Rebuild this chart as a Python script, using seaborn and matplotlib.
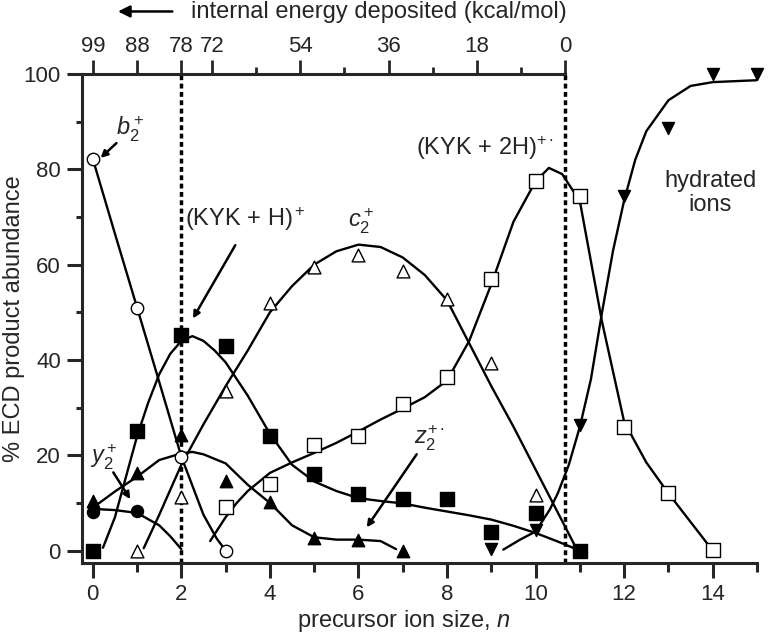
import numpy as np
import pandas as pd
import matplotlib
matplotlib.use("Agg")
import matplotlib.pyplot as plt
import seaborn as sns

# measured points (precursor ion size n, % abundance)
n_b2 = [0, 1, 2, 3]
b2 = [82.2, 51.0, 19.7, 0.0]

n_c2 = [1, 2, 3, 4, 5, 6, 7, 8, 9, 10]
c2 = [0.0, 11.3, 33.5, 52.0, 59.5, 62.1, 58.7, 52.8, 39.4, 11.7]

n_kh = [0, 1, 2, 3, 4, 5, 6, 7, 8, 9, 10, 11]
kh = [0.0, 25.1, 45.2, 42.9, 24.0, 16.0, 11.8, 10.8, 10.8, 4.0, 7.9, 0.0]

n_k2h = [3, 4, 5, 6, 7, 8, 9, 10, 11, 12, 13, 14]
k2h = [9.1, 14.0, 22.1, 24.0, 30.8, 36.5, 56.9, 77.5, 74.3, 26.0, 12.0, 0.2]

n_z2 = [0, 1, 2, 3, 4, 5, 6, 7]
z2 = [10.4, 16.2, 24.2, 14.5, 10.3, 2.7, 2.3, 0.0]

n_y2 = [0, 1]
y2 = [8.2, 8.4]

n_hyd = [9, 10, 11, 12, 13, 14, 15]
hyd = [0.3, 4.4, 26.3, 74.3, 88.6, 100.0, 100.0]

# hand-drawn guide curves
cb2_n = [0, 0.5, 1, 1.5, 2, 2.5, 2.8, 3]
cb2_y = [82.2, 66.5, 51.0, 35.4, 19.7, 7.5, 2.5, 0.0]

cc2_n = [1.15, 1.5, 2, 2.5, 3, 3.5, 4, 4.5, 5, 5.5, 6, 6.5, 7, 7.5, 8, 8.5, 9, 9.5, 10, 10.5, 10.9]
cc2_y = [0.5, 7.5, 18, 26.5, 34.5, 42, 50, 55.5, 60, 62.8, 64.2, 63.7, 61.5, 57.8, 52.5, 43.5, 34.5, 26, 17, 8, 0.8]

ckh_n = [0.23, 0.5, 0.75, 1, 1.25, 1.5, 1.75, 2, 2.25, 2.5, 2.75, 3, 3.5, 4, 4.5, 5, 5.5, 6, 6.5, 7, 7.5, 8, 8.5, 9, 9.5, 10, 10.5, 11]
ckh_y = [0.6, 7, 15.5, 24, 31, 37, 41.3, 44, 45, 44, 42, 39.5, 32.5, 24.5, 18, 14.5, 12.5, 11, 10.4, 9.9, 9, 8.2, 7.4, 6.5, 5.2, 3.7, 1.9, 0]

ck2h_n = [2.65, 3, 3.25, 3.5, 4, 4.5, 5, 5.5, 6, 6.5, 7, 7.5, 8, 8.5, 9, 9.5, 10, 10.3, 10.6, 11, 11.5, 12, 12.5, 13, 13.5, 13.9]
ck2h_y = [2, 7, 10, 12.5, 16.3, 18.5, 20.5, 22.6, 25, 27.5, 29.8, 32.2, 35.7, 44, 55.9, 69, 77.5, 80.3, 79, 73.3, 48, 27, 18.5, 12, 6, 1.2]

cz2_n = [0.09, 0.5, 1, 1.5, 2, 2.25, 2.5, 3, 3.5, 4, 4.5, 5, 5.5, 6, 6.5, 6.85]
cz2_y = [9.6, 12.4, 15.5, 19, 20.4, 20.7, 20.2, 18.3, 13.8, 10, 5.3, 2.8, 2.3, 2.3, 2.0, 0.3]

cy2_n = [0.1, 0.5, 1, 1.5, 1.75, 2]
cy2_y = [8.7, 8.5, 7.9, 5.3, 3.0, 0.3]

chyd_n = [9.27, 9.65, 10, 10.32, 10.5, 10.75, 11, 11.25, 11.5, 11.75, 12, 12.25, 12.5, 13, 13.5, 14, 15]
chyd_y = [0.2, 2.3, 4.0, 8.6, 12, 18, 26, 36, 50, 63, 73.5, 82, 88, 94.5, 97.5, 98.3, 98.7]

top_pos = [0, 1, 2, 2.69, 4.68, 6.68, 8.67, 10.67]
top_lab = ["99", "88", "78", "72", "54", "36", "18", "0"]
top_minor = [3.69, 5.68, 7.68, 9.67]

sns.set_style("ticks")
plt.rcParams['font.family'] = ['Liberation Sans', 'DejaVu Sans']
plt.rcParams['mathtext.fontset'] = 'custom'
plt.rcParams['mathtext.rm'] = 'Liberation Sans'
plt.rcParams['mathtext.it'] = 'Liberation Sans:italic'
plt.rcParams['mathtext.bf'] = 'Liberation Sans:bold'

fs = 17
tfs = 16
fig = plt.figure(figsize=(7.68, 6.37), dpi=100)
ax = fig.add_axes([0.1064, 0.1162, 0.8793, 0.7676])

lw = 1.7
curves = [(cb2_n, cb2_y), (cc2_n, cc2_y), (ckh_n, ckh_y), (ck2h_n, ck2h_y),
          (cz2_n, cz2_y), (cy2_n, cy2_y), (chyd_n, chyd_y)]
for cn, cy in curves:
    sns.lineplot(x=cn, y=cy, ax=ax, color="black", lw=lw, sort=False,
                 estimator=None, zorder=3)

mk = dict(ax=ax, edgecolor="black", linewidth=1.0, zorder=4, legend=False,
          clip_on=False)
sns.scatterplot(x=n_b2, y=b2, marker="o", s=80, facecolor="white", **mk)
sns.scatterplot(x=n_c2, y=c2, marker="^", s=85, facecolor="white", **mk)
sns.scatterplot(x=n_kh, y=kh, marker="s", s=88, facecolor="black", **mk)
sns.scatterplot(x=n_k2h, y=k2h, marker="s", s=88, facecolor="white", **mk)
sns.scatterplot(x=n_z2, y=z2, marker="^", s=80, facecolor="black", **mk)
sns.scatterplot(x=n_y2, y=y2, marker="o", s=75, facecolor="black", **mk)
sns.scatterplot(x=n_hyd, y=hyd, marker="v", s=75, facecolor="black", **mk)

# dotted guides at n=2 and zero internal energy
for xv in [2, 10.67]:
    ax.plot([xv, xv], [-2.6, 100], color="black", lw=2.5,
            linestyle=(0, (1.4, 1.0)), zorder=2, clip_on=False)

ax.set_xlim(-0.25, 15)
ax.set_ylim(-2.6, 100)
ax.set_xticks(range(0, 15, 2))
ax.set_xticks(range(1, 16, 2), minor=True)
ax.set_yticks(range(0, 101, 20))
ax.set_yticks(range(10, 100, 20), minor=True)
for s in ["top", "right"]:
    ax.spines[s].set_visible(False)
for s in ["left", "bottom"]:
    ax.spines[s].set_linewidth(2.2)
ax.tick_params(axis="x", which="major", direction="out", length=11,
               width=2.2, labelsize=tfs, pad=4)
ax.tick_params(axis="x", which="minor", direction="out", length=6.5,
               width=2.2)
ax.tick_params(axis="y", which="major", direction="out", length=11,
               width=2.2, labelsize=tfs, pad=4)
ax.tick_params(axis="y", which="minor", direction="out", length=4.5,
               width=2.2)
ax.set_xlabel("precursor ion size, $n$", fontsize=fs, va="bottom")
ax.xaxis.set_label_coords(0.4765, -0.146)
ax.set_ylabel("% ECD product abundance", fontsize=fs)
ax.yaxis.set_label_coords(-0.084, 0.5)

# top energy axis
ax2 = ax.twiny()
ax2.set_xlim(ax.get_xlim())
ax2.set_xticks(top_pos)
ax2.set_xticklabels(top_lab)
ax2.set_xticks(top_minor, minor=True)
for s in ["left", "right", "bottom"]:
    ax2.spines[s].set_visible(False)
ax2.spines["top"].set_bounds(-0.25, 10.67)
ax2.spines["top"].set_linewidth(2.2)
ax2.tick_params(which="major", direction="out", length=10, width=2.0,
                labelsize=tfs, pad=2)
ax2.tick_params(which="minor", direction="out", length=5, width=2.0)

fig.text(0.4935, 0.981, "internal energy deposited (kcal/mol)", fontsize=fs,
         ha="center", va="center")
fig.add_artist(matplotlib.patches.FancyArrowPatch(
    (0.228, 0.982), (0.150, 0.982), transform=fig.transFigure,
    arrowstyle="-|>,head_length=7,head_width=3.5", color="black", lw=1.8))

# annotations
ax.text(0.85, 88.5, "$b_2^+$", fontsize=fs, ha="center", va="center")
ax.annotate("", xy=(0.13, 82.0), xytext=(0.58, 85.9),
            arrowprops=dict(arrowstyle="-|>", color="black", lw=1.8))
ax.text(3.45, 69.5, "(KYK + H)$^+$", fontsize=fs, ha="center", va="center")
ax.annotate("", xy=(2.23, 48.2), xytext=(3.25, 64.6),
            arrowprops=dict(arrowstyle="-|>", color="black", lw=1.8))
ax.text(6.05, 69.0, "$c_2^+$", fontsize=fs, ha="center", va="center")
ax.text(8.85, 84.5, r"(KYK + 2H)$^{+\bullet}$", fontsize=fs, ha="center",
        va="center")
ax.text(7.6, 23.5, r"$z_2^{+\bullet}$", fontsize=fs, ha="center",
        va="center")
ax.annotate("", xy=(6.15, 4.4), xytext=(7.35, 20.7),
            arrowprops=dict(arrowstyle="-|>", color="black", lw=1.8))
ax.text(0.25, 19.5, "$y_2^+$", fontsize=fs, ha="center", va="center")
ax.annotate("", xy=(0.88, 10.3), xytext=(0.43, 16.9),
            arrowprops=dict(arrowstyle="-|>", color="black", lw=1.8))
ax.text(13.94, 75.0, "hydrated\nions", fontsize=fs, ha="center",
        va="center", linespacing=1.1)

fig.savefig("out.png", dpi=100)
